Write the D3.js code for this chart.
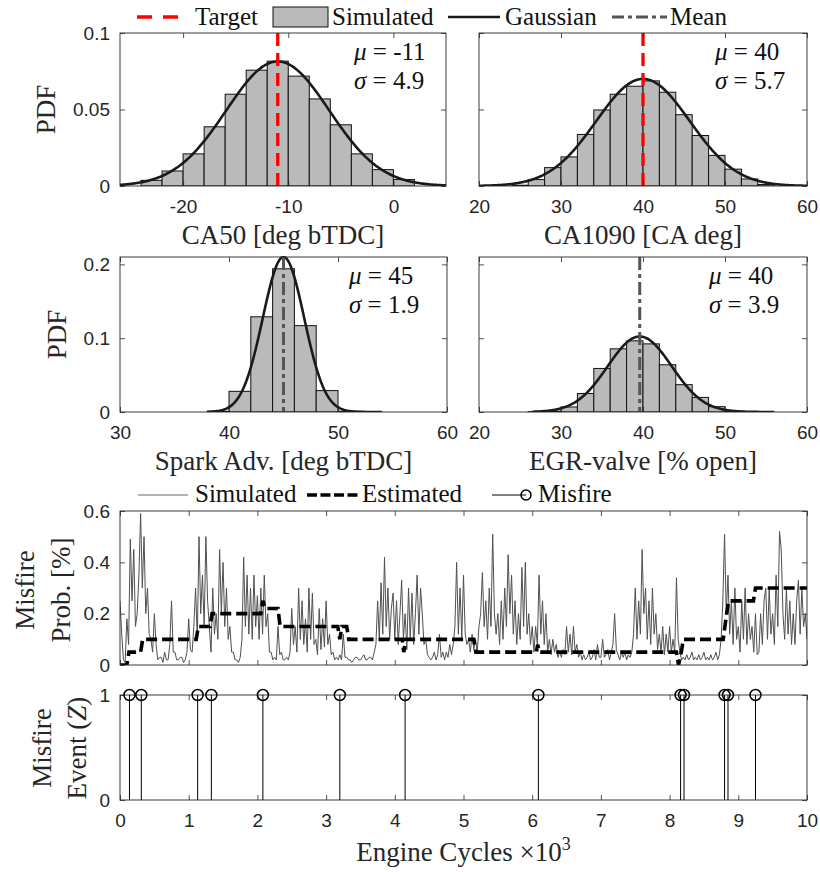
<!DOCTYPE html>
<html><head><meta charset="utf-8">
<script src="https://cdn.jsdelivr.net/npm/d3@7"></script>
<style>body{margin:0;background:#fff}svg{display:block}</style>
</head><body>
<svg id="c" width="820" height="872"></svg>
<script>
// ---------------- DATA ----------------
const ca50Bins   = [-24,-22,-20,-18,-16,-14,-12,-10,-8,-6,-4,-2,0];
const ca50Pdf    = [0.0037,0.0098,0.021,0.0387,0.060,0.0757,0.0816,0.0718,0.0569,0.040,0.021,0.0107,0.0042];
const ca1090Bins = [24,26,28,30,32,34,36,38,40,42,44,46,48,50,52,54];
const ca1090Pdf  = [0.0005,0.0042,0.012,0.019,0.0337,0.0497,0.060,0.0652,0.0687,0.0613,0.0466,0.033,0.020,0.011,0.0046,0.001];
const sparkBins  = [38,40,42,44,46,48,50,52];
const sparkPdf   = [0.001,0.028,0.129,0.194,0.117,0.029,0.001,0.0005];
const egrBins    = [26,28,30,32,34,36,38,40,42,44,46,48,50];
const egrPdf     = [0.0005,0.001,0.0068,0.025,0.059,0.0856,0.0964,0.0923,0.064,0.037,0.0198,0.0072,0.0014];
const binWidth   = 2;
const fitMu      = [-11, 40, 45, 39.6];
const fitSigma   = [4.9, 5.7, 1.9, 3.9];
const fitRange   = [[-26,5],[20,60],[38,54],[26.5,56]];
const muText     = ['-11','40','45','40'];
const sigmaText  = ['4.9','5.7','1.9','3.9'];
const targetVals = [-11, 40, null, null];
const meanVals   = [null, null, 45, 39.6];
const histXLabels= ['CA50 [deg bTDC]','CA1090 [CA deg]','Spark Adv. [deg bTDC]','EGR-valve [% open]'];
const histXDom   = [[-26,5],[20,60],[30,60],[20,60]];
const histXTicks = [[-20,-10,0],[20,30,40,50,60],[30,40,50,60],[20,30,40,50,60]];
const histYDom   = [[0,0.1],[0,0.1],[0,0.21],[0,0.21]];
const histYTicks = [[0,0.05,0.1],[0,0.05,0.1],[0,0.1,0.2],[0,0.1,0.2]];

// misfire probability, simulated (read every 25 cycles, 0..10000)
const simStep = 25;
const simProb = [
0.25,0.12,0.02,0.01,0.18,0.08,0.49,0.25,0.45,0.15,0.2,0.35,0.59,0.3,0.5,0.2,0.3,0.12,0.1,0.05,
0.2,0.08,0.02,0.03,0.03,0.01,0.05,0.02,0.02,0.08,0.25,0.05,0.05,0.02,0.02,0.03,0.03,0.01,0.02,0.05,
0.18,0.06,0.05,0.15,0.3,0.1,0.5,0.2,0.35,0.15,0.5,0.25,0.15,0.05,0.3,0.12,0.2,0.1,0.45,0.2,
0.4,0.15,0.3,0.1,0.15,0.05,0.05,0.02,0.02,0.01,0.03,0.1,0.42,0.15,0.35,0.12,0.3,0.1,0.35,0.15,
0.27,0.1,0.3,0.12,0.35,0.15,0.2,0.05,0.05,0.02,0.03,0.02,0.15,0.04,0.05,0.02,0.02,0.03,0.02,0.05,
0.22,0.08,0.15,0.05,0.3,0.1,0.25,0.08,0.18,0.05,0.3,0.1,0.28,0.08,0.1,0.04,0.22,0.06,0.18,0.07,
0.25,0.08,0.12,0.04,0.05,0.02,0.03,0.02,0.04,0.02,0.12,0.03,0.03,0.02,0.02,0.01,0.02,0.03,0.03,0.02,
0.02,0.03,0.04,0.02,0.02,0.03,0.03,0.02,0.05,0.08,0.25,0.1,0.32,0.12,0.42,0.15,0.3,0.1,0.22,0.28,
0.1,0.25,0.08,0.2,0.33,0.1,0.2,0.06,0.3,0.1,0.28,0.08,0.2,0.35,0.12,0.3,0.2,0.08,0.1,0.04,
0.03,0.02,0.03,0.05,0.02,0.04,0.12,0.03,0.05,0.02,0.05,0.03,0.08,0.04,0.08,0.15,0.4,0.12,0.3,0.1,
0.35,0.12,0.08,0.1,0.05,0.12,0.06,0.1,0.05,0.15,0.2,0.36,0.15,0.25,0.1,0.3,0.15,0.51,0.2,0.12,
0.2,0.08,0.25,0.1,0.3,0.15,0.43,0.2,0.35,0.12,0.25,0.08,0.2,0.1,0.38,0.15,0.4,0.12,0.2,0.08,
0.15,0.05,0.15,0.08,0.35,0.12,0.25,0.08,0.2,0.05,0.1,0.04,0.1,0.05,0.08,0.03,0.05,0.03,0.06,0.04,
0.15,0.05,0.12,0.04,0.15,0.05,0.08,0.03,0.05,0.02,0.04,0.02,0.03,0.05,0.02,0.03,0.06,0.02,0.08,0.03,
0.03,0.1,0.03,0.04,0.06,0.02,0.05,0.08,0.2,0.06,0.04,0.02,0.05,0.03,0.05,0.02,0.04,0.03,0.05,0.12,
0.3,0.1,0.25,0.12,0.45,0.2,0.3,0.1,0.25,0.08,0.3,0.12,0.2,0.06,0.12,0.05,0.15,0.04,0.12,0.05,
0.15,0.05,0.1,0.05,0.34,0.1,0.05,0.02,0.03,0.02,0.04,0.02,0.03,0.05,0.02,0.03,0.02,0.04,0.02,0.03,
0.05,0.02,0.03,0.02,0.04,0.02,0.03,0.05,0.02,0.04,0.1,0.25,0.51,0.2,0.35,0.12,0.25,0.08,0.3,0.1,
0.15,0.05,0.25,0.1,0.3,0.08,0.2,0.1,0.15,0.05,0.2,0.04,0.05,0.2,0.08,0.25,0.3,0.1,0.3,0.12,
0.2,0.08,0.35,0.15,0.52,0.45,0.2,0.1,0.3,0.12,0.25,0.08,0.2,0.08,0.25,0.33,0.12,0.3,0.15,0.2,
0.1];
// estimated misfire probability (breakpoints)
const estCycle = [0,100,130,300,330,1110,1140,1310,1340,2050,2080,2110,2300,2330,3170,3200,3230,3300,3330,4110,4130,4160,5150,5180,6060,6080,6100,8100,8130,8170,8200,8780,8830,8860,9220,9250,10000];
const estVal   = [0,0,0.05,0.05,0.1,0.1,0.15,0.15,0.2,0.2,0.25,0.22,0.22,0.15,0.15,0.1,0.15,0.15,0.1,0.1,0.05,0.1,0.1,0.05,0.05,0.08,0.05,0.05,0,0.05,0.1,0.1,0.2,0.25,0.25,0.3,0.3];
// misfire events (cycle numbers)
const misfireCycles = [138,310,1130,1330,2080,3200,4150,6090,8160,8210,8800,8850,9250];
const cycleTicks = [0,1000,2000,3000,4000,5000,6000,7000,8000,9000,10000];
const probTicks  = [0,0.2,0.4,0.6];
const eventTicks = [0,1];

// ---------------- LAYOUT / STYLE ----------------
const svg = d3.select('#c');
const SERIF = '"Liberation Serif","Times New Roman",serif';
const SANS  = '"Liberation Sans",Arial,Helvetica,sans-serif';
const NARROW= '"Liberation Sans Narrow","Liberation Sans",Arial,sans-serif';
const AXC = '#262626';
const histBoxes = [
  {l:120,r:446,t:33,b:186},{l:479,r:807,t:33,b:186},
  {l:120,r:447,t:257,b:412},{l:479,r:807,t:257,b:412}];
const histData = [[ca50Bins,ca50Pdf],[ca1090Bins,ca1090Pdf],[sparkBins,sparkPdf],[egrBins,egrPdf]];
const fmt = d => d===0 ? '0' : String(d);
let clipId = 0;

function drawAxes(x, y, box, xt, yt, xfmt, yfmt, tfont){
  const g = svg.append('g');
  const styl = sel => { sel.select('.domain').remove();
    sel.selectAll('line').attr('stroke',AXC).attr('stroke-width',0.8);
    sel.selectAll('text').attr('fill',AXC).attr('font-family',tfont||SANS).attr('font-size',19); };
  const none = ()=>'';
  g.append('g').attr('transform',`translate(0,${box.b})`)
    .call(d3.axisBottom(x).tickValues(xt).tickSizeInner(-5).tickSizeOuter(0).tickPadding(14).tickFormat(xfmt||none))
    .call(styl);
  g.append('g').attr('transform',`translate(0,${box.t})`)
    .call(d3.axisTop(x).tickValues(xt).tickSizeInner(-5).tickSizeOuter(0).tickFormat(none))
    .call(styl);
  g.append('g').attr('transform',`translate(${box.l},0)`)
    .call(d3.axisLeft(y).tickValues(yt).tickSizeInner(-5).tickSizeOuter(0).tickPadding(10).tickFormat(yfmt||none))
    .call(styl);
  g.append('g').attr('transform',`translate(${box.r},0)`)
    .call(d3.axisRight(y).tickValues(yt).tickSizeInner(-5).tickSizeOuter(0).tickFormat(none))
    .call(styl);
  g.append('rect').attr('x',box.l).attr('y',box.t).attr('width',box.r-box.l).attr('height',box.b-box.t)
    .attr('fill','none').attr('stroke',AXC).attr('stroke-width',0.9);
}
function clipFor(box){
  const id='clip'+(clipId++);
  svg.append('clipPath').attr('id',id).append('rect')
    .attr('x',box.l).attr('y',box.t-1).attr('width',box.r-box.l).attr('height',box.b-box.t+1);
  return `url(#${id})`;
}

// ---------------- HISTOGRAM PANELS ----------------
histBoxes.forEach((box,i)=>{
  const x = d3.scaleLinear().domain(histXDom[i]).range([box.l,box.r]);
  const y = d3.scaleLinear().domain(histYDom[i]).range([box.b,box.t]);
  const g = svg.append('g').attr('clip-path',clipFor(box));
  const [bins,pdf] = histData[i];
  g.selectAll('rect.bar').data(bins).join('rect')
    .attr('x',d=>x(d)).attr('width',d=>x(d+binWidth)-x(d))
    .attr('y',(d,j)=>y(pdf[j])).attr('height',(d,j)=>y(0)-y(pdf[j]))
    .attr('fill','#bababa').attr('stroke','#111').attr('stroke-width',1);
  const mu=fitMu[i], sg=fitSigma[i];
  const xs = d3.range(fitRange[i][0], fitRange[i][1]+0.001, 0.1);
  g.append('path').datum(xs)
    .attr('d', d3.line().x(d=>x(d)).y(d=>y(Math.exp(-0.5*((d-mu)/sg)**2)/(sg*Math.sqrt(2*Math.PI)))))
    .attr('fill','none').attr('stroke','#1a1a1a').attr('stroke-width',2.6);
  if(targetVals[i]!==null){
    g.append('line').attr('x1',x(targetVals[i])).attr('x2',x(targetVals[i]))
      .attr('y1',box.t).attr('y2',box.b).attr('stroke','#ff0000').attr('stroke-width',3.3)
      .attr('stroke-dasharray','13,7');
  }
  if(meanVals[i]!==null){
    g.append('line').attr('x1',x(meanVals[i])).attr('x2',x(meanVals[i]))
      .attr('y1',box.t).attr('y2',box.b).attr('stroke','#555').attr('stroke-width',3)
      .attr('stroke-dasharray','13,4,4,4');
  }
  drawAxes(x,y,box,histXTicks[i],histYTicks[i],fmt,(i%2===0)?fmt:null);
  const tx = box.r - (i<2 ? 92 : 98);
  const ty1 = box.t + 27, ty2 = box.t + 56;
  const t1 = svg.append('text').attr('x',tx).attr('y',ty1).attr('font-family',SERIF).attr('font-size',25).attr('fill','#111');
  t1.append('tspan').attr('font-style','italic').text('μ');
  t1.append('tspan').text(' = '+muText[i]);
  const t2 = svg.append('text').attr('x',tx).attr('y',ty2).attr('font-family',SERIF).attr('font-size',25).attr('fill','#111');
  t2.append('tspan').attr('font-style','italic').text('σ');
  t2.append('tspan').text(' = '+sigmaText[i]);
  svg.append('text').attr('x',(box.l+box.r)/2).attr('y',box.b+58).attr('text-anchor','middle')
    .attr('font-family',SERIF).attr('font-size',27).attr('fill',AXC).text(histXLabels[i]);
  if(i%2===0){
    const cx = i===0 ? 46 : 57;
    svg.append('text').attr('transform',`translate(${cx+9},${(box.t+box.b)/2}) rotate(-90)`)
      .attr('text-anchor','middle').attr('font-family',SERIF).attr('font-size',27).attr('fill',AXC).text('PDF');
  }
});

// top legend
const lg = svg.append('g');
lg.append('line').attr('x1',137).attr('x2',178).attr('y1',17).attr('y2',17).attr('stroke','#ff0000').attr('stroke-width',3.3).attr('stroke-dasharray','15,11');
lg.append('rect').attr('x',273).attr('y',7).attr('width',55).attr('height',20).attr('fill','#bababa').attr('stroke','#111');
lg.append('line').attr('x1',448).attr('x2',500).attr('y1',17).attr('y2',17).attr('stroke','#1a1a1a').attr('stroke-width',2.6);
lg.append('line').attr('x1',612).attr('x2',667).attr('y1',17).attr('y2',17).attr('stroke','#555').attr('stroke-width',3).attr('stroke-dasharray','12,4,4,4');
[['Target',195],['Simulated',332],['Gaussian',505],['Mean',670]].forEach(([t,xx])=>{
  lg.append('text').attr('x',xx).attr('y',25).attr('font-family',SERIF).attr('font-size',25).attr('fill','#111').text(t);
});

// ---------------- MISFIRE PROBABILITY ----------------
const pbox = {l:120,r:807,t:511,b:665};
const xc = d3.scaleLinear().domain([0,10000]).range([pbox.l,pbox.r]);
const yp = d3.scaleLinear().domain([0,0.6]).range([pbox.b,pbox.t]);
const pg = svg.append('g').attr('clip-path',clipFor(pbox));
pg.append('path').datum(simProb)
  .attr('d',d3.line().x((d,j)=>xc(j*simStep)).y(d=>yp(d)))
  .attr('fill','none').attr('stroke','#505050').attr('stroke-width',1);
pg.append('path').datum(estCycle)
  .attr('d',d3.line().x(d=>xc(d)).y((d,j)=>yp(estVal[j])))
  .attr('fill','none').attr('stroke','#000').attr('stroke-width',3.6).attr('stroke-dasharray','11,5');
drawAxes(xc,yp,pbox,cycleTicks,probTicks,null,fmt);
[['Misfire',25],['Prob. [%]',61]].forEach(([t,cx])=>{
  svg.append('text').attr('transform',`translate(${cx+9},590) rotate(-90)`).attr('text-anchor','middle')
    .attr('font-family',SERIF).attr('font-size',27).attr('fill',AXC).text(t);
});
const lg2 = svg.append('g');
lg2.append('line').attr('x1',138).attr('x2',188).attr('y1',495).attr('y2',495).attr('stroke','#666').attr('stroke-width',1);
lg2.append('line').attr('x1',307).attr('x2',358).attr('y1',495).attr('y2',495).attr('stroke','#000').attr('stroke-width',3.6).attr('stroke-dasharray','10,3.5');
lg2.append('line').attr('x1',492).attr('x2',526).attr('y1',495).attr('y2',495).attr('stroke','#000').attr('stroke-width',1);
lg2.append('circle').attr('cx',526).attr('cy',495).attr('r',5).attr('fill','none').attr('stroke','#000').attr('stroke-width',1.5);
[['Simulated',195],['Estimated',362],['Misfire',538]].forEach(([t,xx])=>{
  lg2.append('text').attr('x',xx).attr('y',502).attr('font-family',SERIF).attr('font-size',25).attr('fill','#111').text(t);
});

// ---------------- MISFIRE EVENTS ----------------
const ebox = {l:120,r:807,t:695,b:800};
const ye = d3.scaleLinear().domain([0,1]).range([ebox.b,ebox.t]);
drawAxes(xc,ye,ebox,cycleTicks,eventTicks,d=>String(d/1000),fmt,NARROW);
const eg = svg.append('g');
eg.selectAll('line.stem').data(misfireCycles).join('line')
  .attr('x1',d=>xc(d)).attr('x2',d=>xc(d)).attr('y1',ye(0)).attr('y2',ye(1))
  .attr('stroke','#000').attr('stroke-width',1);
eg.selectAll('circle').data(misfireCycles).join('circle')
  .attr('cx',d=>xc(d)).attr('cy',ye(1)).attr('r',5.5)
  .attr('fill','none').attr('stroke','#000').attr('stroke-width',1.5);
[['Misfire',42],['Event (',77]].forEach(([t,cx],k)=>{
  const tt = svg.append('text').attr('transform',`translate(${cx+9},748) rotate(-90)`).attr('text-anchor','middle')
    .attr('font-family',SERIF).attr('font-size',27).attr('fill',AXC);
  if(k===0) tt.text(t); else { tt.append('tspan').text('Event ('); tt.append('tspan').attr('font-style','italic').text('Z'); tt.append('tspan').text(')'); }
});
const xl = svg.append('text').attr('x',(ebox.l+ebox.r)/2).attr('y',861).attr('text-anchor','middle')
  .attr('font-family',SERIF).attr('font-size',27).attr('fill',AXC);
xl.append('tspan').text('Engine Cycles ×10');
xl.append('tspan').attr('font-size',18).attr('dy',-11).text('3');
</script>
</body></html>
